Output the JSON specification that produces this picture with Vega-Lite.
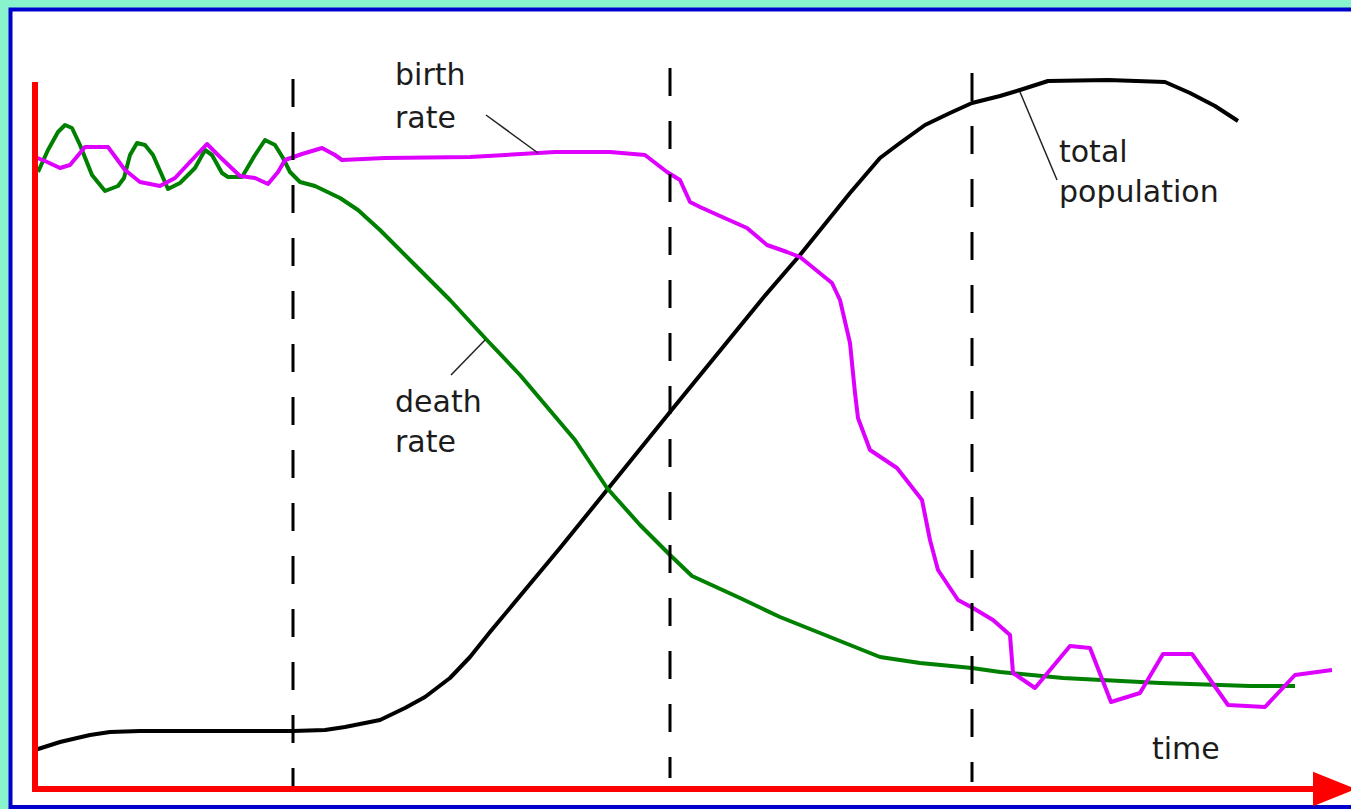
{
  "$schema": "https://vega.github.io/schema/vega-lite/v6.json",
  "width": 1351,
  "height": 809,
  "padding": 0,
  "autosize": {"type": "none"},
  "background": "#88f3cc",
  "config": {"view": {"stroke": null}},
  "datasets": {
    "frame": [{"t": 10.5, "t2": 1400, "v": 2, "v2": 799.5}],
    "stages": [
      {"t": 293, "top": 730, "bottom": 22},
      {"t": 670, "top": 741, "bottom": 31},
      {"t": 972, "top": 736, "bottom": 27}
    ],
    "pop": [
      {"t": 35, "v": 59}, {"t": 60, "v": 67}, {"t": 90, "v": 74}, {"t": 110, "v": 77},
      {"t": 140, "v": 78}, {"t": 293, "v": 78}, {"t": 325, "v": 79}, {"t": 345, "v": 82},
      {"t": 380, "v": 89}, {"t": 405, "v": 101}, {"t": 425, "v": 112}, {"t": 450, "v": 131},
      {"t": 470, "v": 152}, {"t": 490, "v": 177}, {"t": 500, "v": 189}, {"t": 560, "v": 261},
      {"t": 607, "v": 319}, {"t": 670, "v": 397}, {"t": 763, "v": 511}, {"t": 800, "v": 554},
      {"t": 850, "v": 616}, {"t": 880, "v": 651}, {"t": 900, "v": 666}, {"t": 925, "v": 684},
      {"t": 950, "v": 696}, {"t": 972, "v": 706}, {"t": 1000, "v": 713}, {"t": 1020, "v": 719},
      {"t": 1048, "v": 728}, {"t": 1108, "v": 729}, {"t": 1165, "v": 727}, {"t": 1190, "v": 716},
      {"t": 1215, "v": 703}, {"t": 1238, "v": 688}
    ],
    "death": [
      {"t": 38, "v": 637}, {"t": 48, "v": 659}, {"t": 58, "v": 677}, {"t": 65, "v": 684},
      {"t": 72, "v": 681}, {"t": 80, "v": 664}, {"t": 92, "v": 634}, {"t": 105, "v": 618},
      {"t": 118, "v": 623}, {"t": 124, "v": 631}, {"t": 130, "v": 654}, {"t": 137, "v": 666},
      {"t": 145, "v": 664}, {"t": 153, "v": 654}, {"t": 168, "v": 620}, {"t": 180, "v": 626},
      {"t": 195, "v": 641}, {"t": 205, "v": 659}, {"t": 212, "v": 654}, {"t": 222, "v": 636},
      {"t": 228, "v": 632}, {"t": 242, "v": 632}, {"t": 255, "v": 654}, {"t": 265, "v": 669},
      {"t": 275, "v": 664}, {"t": 283, "v": 651}, {"t": 290, "v": 637}, {"t": 300, "v": 627},
      {"t": 315, "v": 623}, {"t": 340, "v": 611}, {"t": 358, "v": 599}, {"t": 380, "v": 579},
      {"t": 413, "v": 546}, {"t": 450, "v": 509}, {"t": 485, "v": 471}, {"t": 520, "v": 434},
      {"t": 575, "v": 369}, {"t": 607, "v": 321}, {"t": 640, "v": 284}, {"t": 670, "v": 254},
      {"t": 692, "v": 233}, {"t": 740, "v": 211}, {"t": 780, "v": 192}, {"t": 820, "v": 176},
      {"t": 880, "v": 152}, {"t": 920, "v": 146}, {"t": 972, "v": 141}, {"t": 1000, "v": 137},
      {"t": 1063, "v": 131}, {"t": 1160, "v": 126}, {"t": 1250, "v": 123}, {"t": 1295, "v": 123}
    ],
    "birth": [
      {"t": 35, "v": 652}, {"t": 45, "v": 648}, {"t": 60, "v": 641}, {"t": 70, "v": 644},
      {"t": 85, "v": 662}, {"t": 108, "v": 662}, {"t": 125, "v": 639}, {"t": 140, "v": 627},
      {"t": 160, "v": 623}, {"t": 175, "v": 631}, {"t": 190, "v": 647}, {"t": 207, "v": 665},
      {"t": 220, "v": 652}, {"t": 240, "v": 633}, {"t": 255, "v": 631}, {"t": 268, "v": 625},
      {"t": 278, "v": 637}, {"t": 285, "v": 649}, {"t": 302, "v": 655}, {"t": 322, "v": 661},
      {"t": 335, "v": 654}, {"t": 342, "v": 649}, {"t": 385, "v": 651}, {"t": 470, "v": 652},
      {"t": 555, "v": 657}, {"t": 610, "v": 657}, {"t": 645, "v": 654}, {"t": 667, "v": 637},
      {"t": 680, "v": 629}, {"t": 690, "v": 607}, {"t": 700, "v": 602}, {"t": 720, "v": 593},
      {"t": 747, "v": 581}, {"t": 767, "v": 564}, {"t": 787, "v": 557}, {"t": 800, "v": 552},
      {"t": 832, "v": 526}, {"t": 840, "v": 509}, {"t": 850, "v": 466}, {"t": 855, "v": 416},
      {"t": 858, "v": 391}, {"t": 870, "v": 359}, {"t": 897, "v": 341}, {"t": 922, "v": 309},
      {"t": 930, "v": 269}, {"t": 938, "v": 239}, {"t": 958, "v": 209}, {"t": 973, "v": 201},
      {"t": 993, "v": 189}, {"t": 1010, "v": 174}, {"t": 1013, "v": 136}, {"t": 1035, "v": 121},
      {"t": 1070, "v": 163}, {"t": 1090, "v": 161}, {"t": 1111, "v": 107}, {"t": 1140, "v": 116},
      {"t": 1163, "v": 155}, {"t": 1192, "v": 155}, {"t": 1228, "v": 104}, {"t": 1265, "v": 102},
      {"t": 1295, "v": 134}, {"t": 1332, "v": 139}
    ],
    "leaders": [
      {"t": 486, "v": 694, "t2": 538, "v2": 656},
      {"t": 451, "v": 434, "t2": 485, "v2": 469},
      {"t": 1020, "v": 717, "t2": 1057, "v2": 629}
    ],
    "labels": [
      {"t": 395, "v": 724, "text": "birth"},
      {"t": 395, "v": 681, "text": "rate"},
      {"t": 395, "v": 397, "text": "death"},
      {"t": 395, "v": 357, "text": "rate"},
      {"t": 1059, "v": 647, "text": "total"},
      {"t": 1059, "v": 607, "text": "population"},
      {"t": 1152, "v": 50, "text": "time"}
    ],
    "axes": [
      {"t": 35, "v": 727, "t2": 35, "v2": 17},
      {"t": 32, "v": 20, "t2": 1320, "v2": 20}
    ],
    "arrow": [{"t": 1334.5, "v": 20}]
  },
  "layer": [
    {
      "data": {"name": "frame"},
      "mark": {"type": "rect", "fill": "#ffffff", "stroke": "#0000cc", "strokeWidth": 4},
      "encoding": {
        "x": {"field": "t", "type": "quantitative", "scale": {"domain": [0, 1351], "nice": false, "zero": false}, "axis": null},
        "x2": {"field": "t2"},
        "y": {"field": "v", "type": "quantitative", "scale": {"domain": [0, 809], "nice": false, "zero": false}, "axis": null},
        "y2": {"field": "v2"}
      }
    },
    {
      "data": {"name": "pop"},
      "mark": {"type": "line", "color": "#000000", "strokeWidth": 4, "strokeJoin": "round"},
      "encoding": {
        "x": {"field": "t", "type": "quantitative"},
        "y": {"field": "v", "type": "quantitative"}
      }
    },
    {
      "data": {"name": "death"},
      "mark": {"type": "line", "color": "#008000", "strokeWidth": 4, "strokeJoin": "round"},
      "encoding": {
        "x": {"field": "t", "type": "quantitative"},
        "y": {"field": "v", "type": "quantitative"}
      }
    },
    {
      "data": {"name": "birth"},
      "mark": {"type": "line", "color": "#dd00ff", "strokeWidth": 4, "strokeJoin": "round"},
      "encoding": {
        "x": {"field": "t", "type": "quantitative"},
        "y": {"field": "v", "type": "quantitative"}
      }
    },
    {
      "data": {"name": "stages"},
      "mark": {"type": "rule", "color": "#000000", "strokeWidth": 3, "strokeDash": [28, 25]},
      "encoding": {
        "x": {"field": "t", "type": "quantitative"},
        "y": {"field": "top", "type": "quantitative"},
        "y2": {"field": "bottom"}
      }
    },
    {
      "data": {"name": "leaders"},
      "mark": {"type": "rule", "color": "#222222", "strokeWidth": 1.5},
      "encoding": {
        "x": {"field": "t", "type": "quantitative"},
        "x2": {"field": "t2"},
        "y": {"field": "v", "type": "quantitative"},
        "y2": {"field": "v2"}
      }
    },
    {
      "data": {"name": "labels"},
      "mark": {"type": "text", "align": "left", "baseline": "alphabetic", "font": "DejaVu Sans", "fontSize": 30, "color": "#1c1c1c"},
      "encoding": {
        "x": {"field": "t", "type": "quantitative"},
        "y": {"field": "v", "type": "quantitative"},
        "text": {"field": "text"}
      }
    },
    {
      "data": {"name": "axes"},
      "mark": {"type": "rule", "color": "#ff0000", "strokeWidth": 6},
      "encoding": {
        "x": {"field": "t", "type": "quantitative"},
        "x2": {"field": "t2"},
        "y": {"field": "v", "type": "quantitative"},
        "y2": {"field": "v2"}
      }
    },
    {
      "data": {"name": "arrow"},
      "mark": {"type": "point", "shape": "M-1,-0.8L1,0L-1,0.8Z", "filled": true, "color": "#ff0000", "opacity": 1, "size": 1849},
      "encoding": {
        "x": {"field": "t", "type": "quantitative"},
        "y": {"field": "v", "type": "quantitative"}
      }
    }
  ]
}
